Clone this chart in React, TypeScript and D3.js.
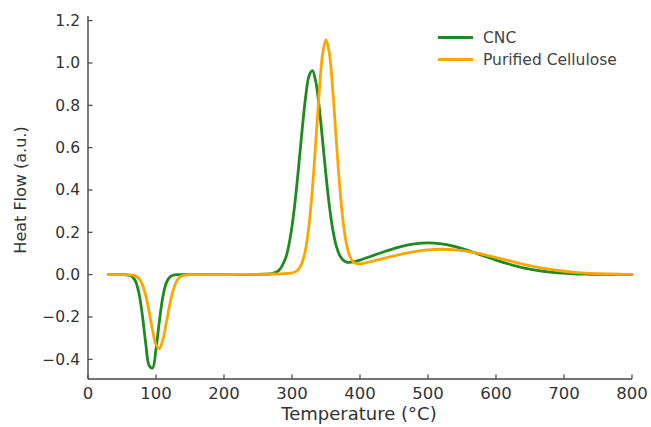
import React from "react";
import * as d3 from "d3";

const temps = [30,40,50,60,65,70,75,80,85,90,95,100,105,110,115,120,125,130,135,140,150,160,180,200,220,240,260,270,280,290,295,300,305,310,315,320,325,330,335,340,345,350,355,360,365,370,375,380,385,390,395,400,410,420,440,460,480,500,520,540,560,580,600,620,640,660,680,700,720,740,760,780,800];

const cnc = [0,0,0,-0.002,-0.009,-0.032,-0.089,-0.193,-0.327,-0.430,-0.441,-0.352,-0.219,-0.106,-0.040,-0.012,-0.003,0,0,0,0,0,0,0,0.0005,0.001,0.002,0.005,0.018,0.073,0.134,0.228,0.358,0.518,0.687,0.838,0.938,0.964,0.911,0.791,0.633,0.469,0.324,0.212,0.137,0.092,0.069,0.059,0.058,0.060,0.064,0.069,0.080,0.091,0.113,0.132,0.145,0.150,0.145,0.132,0.113,0.091,0.069,0.049,0.032,0.020,0.012,0.007,0.003,0.002,0.001,0,0];

const purified = [0,0,0,-0.001,-0.002,-0.006,-0.019,-0.047,-0.100,-0.177,-0.264,-0.331,-0.349,-0.309,-0.230,-0.144,-0.076,-0.033,-0.012,-0.004,0,0,0,0.0005,0.001,0.001,0.002,0.003,0.003,0.005,0.006,0.008,0.013,0.027,0.057,0.120,0.233,0.406,0.629,0.861,1.041,1.110,1.045,0.870,0.641,0.423,0.254,0.146,0.087,0.061,0.052,0.051,0.057,0.065,0.081,0.096,0.109,0.117,0.120,0.117,0.109,0.096,0.081,0.065,0.049,0.036,0.025,0.016,0.010,0.006,0.004,0.002,0.001];

const xTicks = [0,100,200,300,400,500,600,700,800];
const yTicks = [-0.4,-0.2,0.0,0.2,0.4,0.6,0.8,1.0,1.2];

const seriesNames = ["CNC", "Purified Cellulose"];
const seriesColors = ["#1f8a1f", "#ffa500"];

const W = 651, H = 427;
const FONT = "DejaVu Sans, sans-serif";

export default function App() {
  const x = d3.scaleLinear().domain([0, 800]).range([88, 632]);
  const y = d3.scaleLinear().domain([-0.493, 1.222]).range([379, 16]);
  const line = (vals: number[]) =>
    d3.line<number>()
      .x((_, i) => x(temps[i]))
      .y((v) => y(v))
      .curve(d3.curveCatmullRom.alpha(0.5))(vals) || "";
  const series = [cnc, purified];
  const axisColor = "#444";
  const textColor = "#333";
  return (
    <svg width={W} height={H} style={{ position: "absolute", left: 0, top: 0, background: "#fff" }}>
      <rect x={0} y={0} width={W} height={H} fill="#fff" />
      {series.map((s, i) => (
        <path key={i} d={line(s)} fill="none" stroke={seriesColors[i]} strokeWidth={2.8} strokeLinejoin="round" strokeLinecap="round" />
      ))}
      <line x1={x(0)} x2={x(0)} y1={y.range()[0]} y2={y.range()[1]} stroke={axisColor} strokeWidth={1.4} />
      <line x1={x(0)} x2={x(800)} y1={y.range()[0]} y2={y.range()[0]} stroke={axisColor} strokeWidth={1.4} />
      {xTicks.map((t) => (
        <g key={"x" + t}>
          <line x1={x(t)} x2={x(t)} y1={379} y2={374.5} stroke={axisColor} strokeWidth={1.2} />
          <text x={x(t)} y={399} textAnchor="middle" fontFamily={FONT} fontSize={16.5} fill={textColor}>{t}</text>
        </g>
      ))}
      {yTicks.map((t) => (
        <g key={"y" + t}>
          <line x1={x(0)} x2={x(0) + 4.5} y1={y(t)} y2={y(t)} stroke={axisColor} strokeWidth={1.2} />
          <text x={80} y={y(t) + 5.5} textAnchor="end" fontFamily={FONT} fontSize={15.5} fill={textColor}>
            {t < 0 ? "\u2212" + Math.abs(t).toFixed(1) : t.toFixed(1)}
          </text>
        </g>
      ))}
      <text x={359} y={420} textAnchor="middle" fontFamily={FONT} fontSize={18} fill={textColor}>Temperature (°C)</text>
      <text transform={`translate(26,190) rotate(-90)`} textAnchor="middle" fontFamily={FONT} fontSize={16} fill={textColor}>Heat Flow (a.u.)</text>
      {seriesNames.map((n, i) => (
        <g key={n}>
          <line x1={438} x2={473} y1={37.5 + i * 22} y2={37.5 + i * 22} stroke={seriesColors[i]} strokeWidth={2.8} />
          <text x={483} y={43 + i * 22} fontFamily={FONT} fontSize={15.5} fill="#444">{n}</text>
        </g>
      ))}
    </svg>
  );
}
